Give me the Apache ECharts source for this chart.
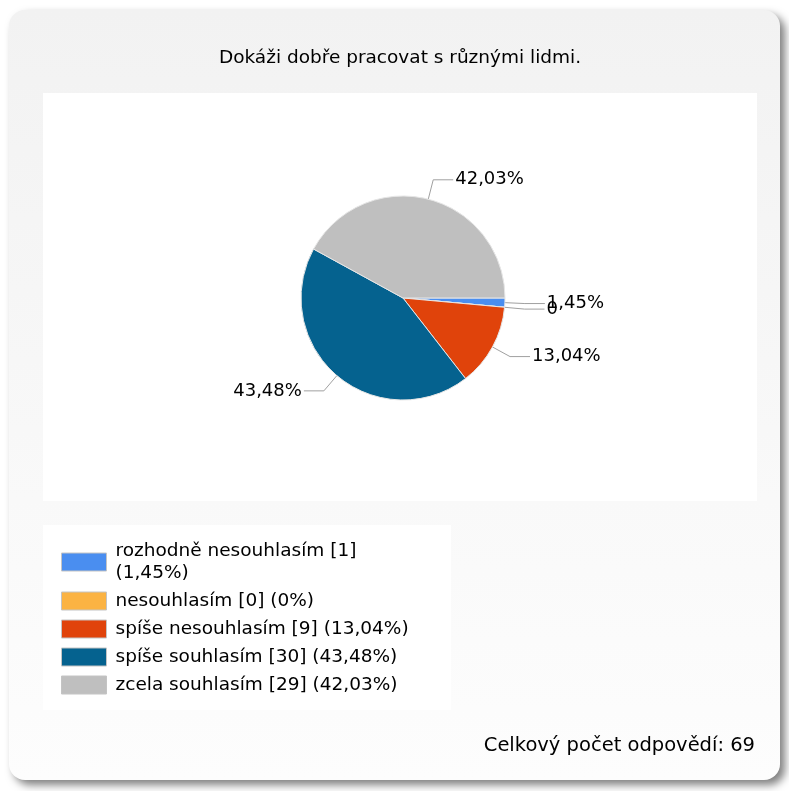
<!DOCTYPE html>
<html>
<head>
<meta charset="utf-8">
<script src="https://cdn.jsdelivr.net/npm/echarts@6/dist/echarts.min.js"></script>
<style>
  html, body { margin: 0; padding: 0; background: #ffffff; }
  #chart { width: 789px; height: 791px; }
</style>
</head>
<body>
<div id="chart"></div>
<script>
// Survey question and answers
const chartTitle = 'Dokáži dobře pracovat s různými lidmi.';
const categories = ['rozhodně nesouhlasím', 'nesouhlasím', 'spíše nesouhlasím', 'spíše souhlasím', 'zcela souhlasím'];
const counts = [1, 0, 9, 30, 29];
const sliceColors = ['#4a8ef0', '#fbb343', '#e0430b', '#05628f', '#bfbfbf'];
const totalCaption = 'Celkový počet odpovědí: ';

const total = counts.reduce((a, b) => a + b, 0);
const pct = v => v === 0 ? '0%' : (v / total * 100).toFixed(2).replace('.', ',') + '%';

const FONT = '"DejaVu Sans", Verdana, sans-serif';
const LEGEND_FONT_SIZE = 18.5;
const LEGEND_TEXT_MAX = 300;

// wrap a legend entry before its percentage when it is too wide for the legend box
const measureCtx = document.createElement('canvas').getContext('2d');
measureCtx.font = LEGEND_FONT_SIZE + 'px ' + FONT;
function legendText(name) {
  const i = categories.indexOf(name);
  const head = name + ' [' + counts[i] + ']';
  const tail = '(' + pct(counts[i]) + ')';
  const full = head + ' ' + tail;
  return measureCtx.measureText(full).width > LEGEND_TEXT_MAX ? head + '\n' + tail : full;
}

const chart = echarts.init(document.getElementById('chart'), null, { renderer: 'canvas' });

chart.setOption({
  animation: false,
  backgroundColor: '#ffffff',
  color: sliceColors,
  graphic: [
    { // rounded panel with a soft shadow
      type: 'rect', z: -10,
      shape: { x: 9, y: 10, width: 771, height: 770, r: 16 },
      style: {
        fill: new echarts.graphic.LinearGradient(0, 0, 0, 1, [
          { offset: 0, color: '#f2f2f2' },
          { offset: 1, color: '#fdfdfd' }
        ]),
        shadowBlur: 8, shadowOffsetX: 5, shadowOffsetY: 5, shadowColor: 'rgba(0,0,0,0.5)'
      }
    },
    { type: 'rect', z: -9, shape: { x: 43, y: 93, width: 714, height: 408 }, style: { fill: '#ffffff' } },
    { type: 'rect', z: -9, shape: { x: 43, y: 525, width: 408, height: 185 }, style: { fill: '#ffffff' } },
    {
      type: 'text', z: 5, x: 400, y: 49,
      style: { text: chartTitle, font: '18.5px ' + FONT, fill: '#000000', align: 'center' }
    },
    {
      type: 'text', z: 5, right: 34, top: 736,
      style: { text: totalCaption + total, font: '19.5px ' + FONT, fill: '#000000' }
    }
  ],
  legend: {
    orient: 'vertical',
    left: 61, top: 540, padding: 0,
    itemWidth: 45, itemHeight: 18, itemGap: 6,
    icon: 'rect',
    selectedMode: false,
    itemStyle: { borderColor: '#c4c4c4', borderWidth: 1 },
    textStyle: {
      fontFamily: FONT, fontSize: LEGEND_FONT_SIZE, lineHeight: 22, color: '#000000',
      padding: [0, 0, 0, 4]
    },
    formatter: legendText,
    data: categories
  },
  series: [{
    type: 'pie',
    center: [403, 298],
    radius: 102,
    clockwise: true,
    startAngle: 0,
    avoidLabelOverlap: false,
    stillShowZeroSum: true,
    minShowLabelAngle: -1,
    itemStyle: { borderColor: '#e6e6e6', borderWidth: 1 },
    label: {
      show: true,
      position: 'outside',
      distanceToLabelLine: 2,
      fontFamily: FONT, fontSize: 18, color: '#000000',
      formatter: p => p.value === 0 ? '0' : pct(p.value)
    },
    labelLine: { show: true, length: 20, length2: 20, lineStyle: { color: '#a0a0a0', width: 1 } },
    emphasis: { disabled: true },
    data: categories.map((name, i) => ({ name, value: counts[i] }))
  }]
});

// Zero-angle sectors get their label hidden by the pie layout; the label and its
// leader line are already positioned, so just switch them back on.
const pieData = chart.getModel().getSeriesByIndex(0).getData();
pieData.each(idx => {
  const sector = pieData.getItemGraphicEl(idx);
  if (!sector) return;
  const text = sector.getTextContent();
  const guide = sector.getTextGuideLine && sector.getTextGuideLine();
  if (text && text.ignore && isFinite(text.x) && isFinite(text.y)) {
    text.ignore = false;
    text.markRedraw();
    if (guide) { guide.ignore = false; guide.markRedraw(); }
  }
});
chart.getZr().refresh();
</script>
</body>
</html>
